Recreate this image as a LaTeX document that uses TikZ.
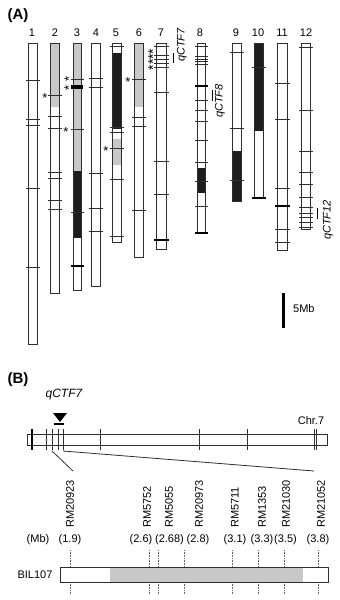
\documentclass[tikz,border=0pt]{standalone}
\usepackage{fontspec}
\setmainfont{Liberation Sans}
\definecolor{cgray}{HTML}{C8C8C8}
\definecolor{cblack}{HTML}{1E1E1E}
\definecolor{cline}{HTML}{2E2E2E}
\newcommand\ChrBox[5]{%
  \draw[chr] (#1,#3) rectangle (#2,#4);
  \foreach \t in {#5} \draw[tk] ({#1-2.5},\t) -- ({#2+2.5},\t);}
\newcommand\ThickTick[3]{\draw[thk] ({#1-2.5},#3) -- ({#2+2.5},#3);}
\begin{document}
\begin{tikzpicture}[x=1pt,y=-1pt,
  chr/.style={draw=cline,line width=0.9pt},
  tk/.style={draw=cline,line width=0.9pt},
  thk/.style={draw=black,line width=2pt},
  lbl/.style={font=\fontsize{11}{13}\selectfont,inner sep=0pt},
  qlbl/.style={font=\fontsize{11}{13}\selectfont\itshape,inner sep=0pt,rotate=90},
  panel/.style={font=\fontsize{15}{17}\selectfont\bfseries,inner sep=0pt},
  astr/.style={font=\fontsize{13}{13}\selectfont,inner sep=0pt,anchor=base,yshift=-7.4pt},
  astack/.style={font=\fontsize{14}{14}\selectfont,inner sep=0pt,anchor=center,rotate=90},
  qbar/.style={draw=black,line width=0.9pt},
  dotl/.style={draw=black!60,line width=0.6pt,densely dotted},
  mk/.style={lbl,rotate=90,anchor=west}]
\useasboundingbox (0,0) rectangle (340,600);
% ---------------- Panel A ----------------
\node[panel] (pA) at (18,16) {(A)};
\foreach \n/\x in {1/32,2/55,3/77,4/96,5/116,6/139,7/161,8/200,9/236,10/258,11/282,12/306}
  \node[lbl] (n\n) at (\x,33) {\n};
% fills
\fill[cgray] (50,43) rectangle (59,107);
\fill[cgray] (73,43) rectangle (81,171);
\fill[cblack] (73,171) rectangle (81,238);
\fill[cblack] (112,53) rectangle (121,129);
\fill[cgray] (112,139) rectangle (121,165);
\fill[cgray] (134,43) rectangle (143,107);
\fill[cblack] (197,168) rectangle (205,193);
\fill[cblack] (232,151) rectangle (241,201);
\fill[cblack] (254,43) rectangle (263,131);
% chromosomes
\ChrBox{28}{37}{43}{344}{80,119,125,188,267}
\ChrBox{50}{59}{43}{293}{95,116,128,172,178,200,209}
\ChrBox{73}{81}{43}{290}{79,129,212}
\draw[draw=black,line width=3.5pt] (71,87) -- (83,87);
\ThickTick{73}{81}{266}
\ChrBox{91}{100}{43}{286}{78,87,173,208,231}
\ChrBox{112}{121}{43}{242}{46,127,132,148,179,236}
\ChrBox{134}{143}{43}{257}{79,117,126,210}
\ChrBox{156}{166}{43}{249}{46,55,59,63,67,92,161,194}
\ThickTick{156}{166}{240}
\ChrBox{197}{205}{43}{233}{46,56,59,61,64,100,110,121,140,162,181,206}
\ThickTick{197}{205}{86}
\ThickTick{197}{205}{233}
\ChrBox{232}{241}{43}{201}{52,128,180}
\ChrBox{254}{263}{43}{198}{67}
\ThickTick{254}{263}{198}
\ChrBox{277}{287}{43}{250}{83,119,188,229,242}
\ThickTick{277}{287}{206}
\ChrBox{301}{310}{43}{229}{47,110,151,172,184,197,207,213,217,222,227}
% stars
\node[astr] (s2) at (45,95) {*};
\node[astack,font=\fontsize{13}{13}\selectfont] (s3ab) at (68.8,83.5) {* *};
\node[astr] (s3c) at (66,129) {*};
\node[astr] (s5) at (106,148) {*};
\node[astr] (s6) at (128,79) {*};
\node[astack] (s7) at (153,59.5) {****};
% QTL labels
\node[qlbl] (q7) at (182,45) {qCTF7};
\draw[qbar] (173,53) -- (173,63);
\node[qlbl] (q8) at (220,101) {qCTF8};
\draw[qbar] (212,90) -- (212,101);
\node[qlbl] (q12) at (328,220) {qCTF12};
\draw[qbar] (317,208) -- (317,219);
% scale bar
\draw[draw=black,line width=3pt] (283,293) -- (283,328);
\node[lbl,anchor=west] (mb5) at (293,309) {5Mb};
% ---------------- Panel B ----------------
\node[panel] (pB) at (18,380) {(B)};
\node[lbl,font=\fontsize{12}{14}\selectfont\itshape] (qB) at (64,395) {qCTF7};
\fill[black] (53,413) -- (67,413) -- (60,422) -- cycle;
\draw[draw=black,line width=1.3pt] (54,424) -- (64,424);
\node[lbl] (chr7) at (311,421) {Chr.7};
\draw[chr] (27,434) rectangle (327,445);
\foreach \x in {46,52,58,63,100,199,247,314,316}
  \draw[tk] (\x,429) -- (\x,450);
\draw[draw=black,line width=1.8pt] (32,429) -- (32,450);
\coordinate (ta) at (52,451);
\coordinate (tb) at (63,451);
\coordinate (za) at (73,471);
\coordinate (zb) at (314,471);
\draw[draw=cline,line width=0.8pt] (ta) -- (za);
\draw[draw=cline,line width=0.8pt] (tb) -- (zb);
% markers
\foreach \nm/\x in {RM20923/70,RM5752/147,RM5055/169,RM20973/199,RM5711/235,RM1353/262,RM21030/286,RM21052/321}
  \node[mk] (\nm) at (\x,528) {\nm};
\node[lbl] (mbu) at (38,540) {(Mb)};
\foreach \v/\x/\i in {1.9/70/a,2.6/141/b,2.68/169.5/c,2.8/198/d,3.1/235/e,3.3/262/f,3.5/285.5/g,3.8/318/h}
  \node[lbl] (v\i) at (\x,540) {(\v)};
\foreach \x in {70,149,158,184,232,258,284,318}
  \draw[dotl] (\x,550) -- (\x,594);
% BIL107
\node[lbl] (bil) at (35,575) {BIL107};
\fill[white] (60,567) rectangle (328,582);
\fill[cgray] (110,567) rectangle (303,582);
\draw[chr] (60,567) rectangle (328,582);
\end{tikzpicture}
\end{document}
